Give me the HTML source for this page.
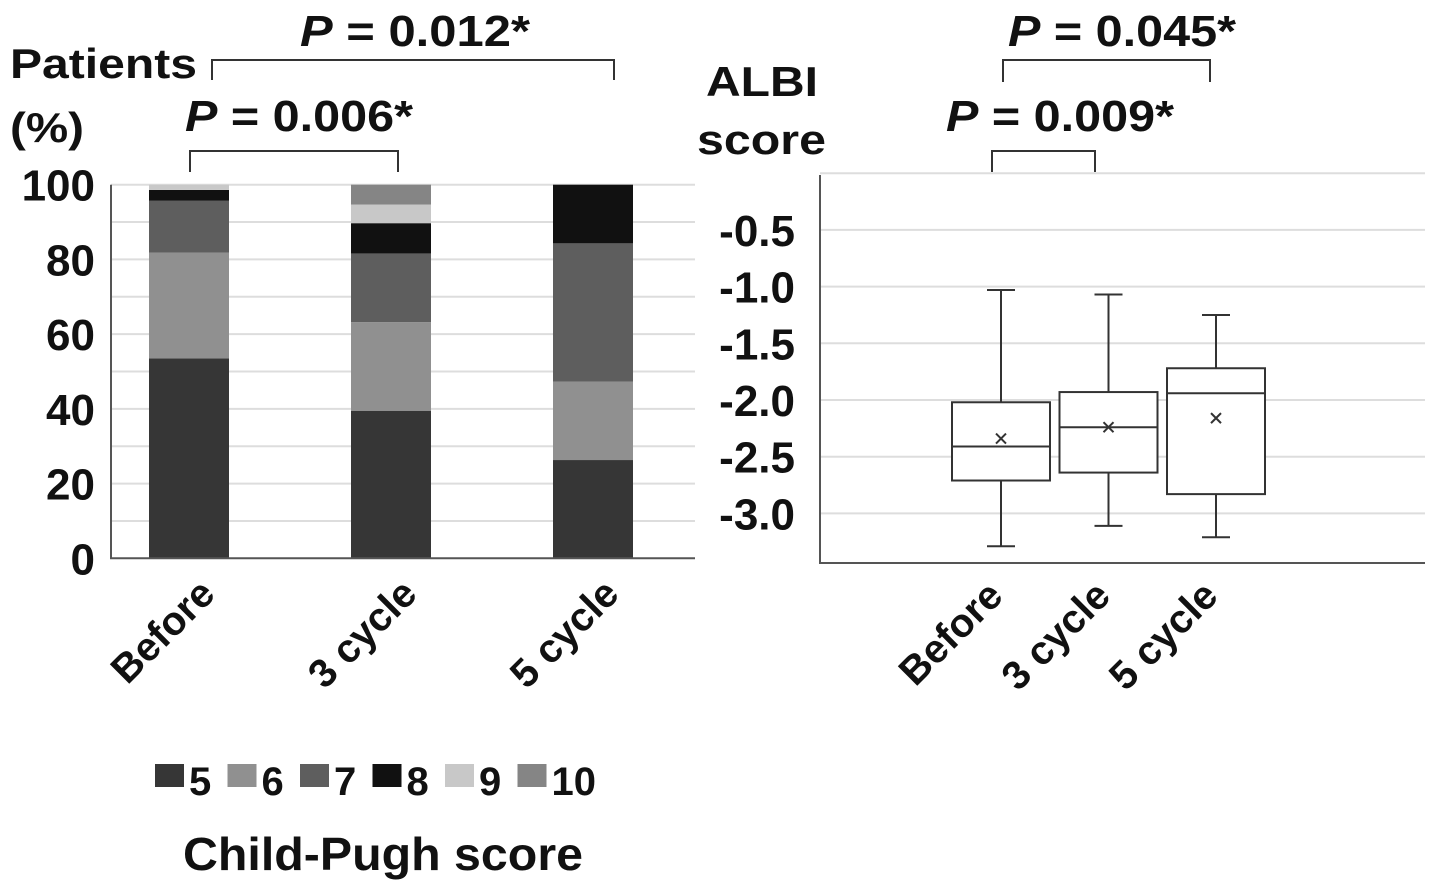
<!DOCTYPE html>
<html><head><meta charset="utf-8">
<style>
html,body{margin:0;padding:0;background:#fff;}
svg{display:block;font-family:"Liberation Sans",Arial,sans-serif;font-weight:bold;}
</style></head>
<body>
<svg id="chart" width="1441" height="891" viewBox="0 0 1441 891">
<g id="left"></g>
<g id="right"></g>
<g fill="#111">
  <text x="10" y="78" font-size="42" textLength="187" lengthAdjust="spacingAndGlyphs">Patients</text>
  <text x="10" y="142" font-size="42" textLength="74" lengthAdjust="spacingAndGlyphs">(%)</text>
  <text x="300" y="46" font-size="44" textLength="230" lengthAdjust="spacingAndGlyphs"><tspan font-style="italic">P</tspan> = 0.012*</text>
  <path d="M212,80 V60 H614 V80" fill="none" stroke="#333" stroke-width="2"/>
  <text x="185" y="131" font-size="44" textLength="228" lengthAdjust="spacingAndGlyphs"><tspan font-style="italic">P</tspan> = 0.006*</text>
  <path d="M190,172 V151 H398 V172" fill="none" stroke="#333" stroke-width="2"/>
  <text x="706" y="96" font-size="42" textLength="112" lengthAdjust="spacingAndGlyphs">ALBI</text>
  <text x="697" y="154" font-size="42" textLength="129" lengthAdjust="spacingAndGlyphs">score</text>
  <text x="1008" y="46" font-size="44" textLength="228" lengthAdjust="spacingAndGlyphs"><tspan font-style="italic">P</tspan> = 0.045*</text>
  <path d="M1003,82 V60 H1210 V82" fill="none" stroke="#333" stroke-width="2"/>
  <text x="946" y="131" font-size="44" textLength="228" lengthAdjust="spacingAndGlyphs"><tspan font-style="italic">P</tspan> = 0.009*</text>
  <path d="M992,172 V151 H1095 V172" fill="none" stroke="#333" stroke-width="2"/>
  <text x="183" y="870" font-size="46" textLength="400" lengthAdjust="spacingAndGlyphs">Child-Pugh score</text>
</g>
<g id="legend"></g>
</svg>
<script>
const NS="http://www.w3.org/2000/svg";
const categories=["Before","3 cycle","5 cycle"];
const scores=["5","6","7","8","9","10"];
const colors=["#363636","#909090","#5e5e5e","#111111","#c8c8c8","#858585"];
const s5=[53.5,39.5,26.3];
const s6=[28.3,23.7,21.0];
const s7=[13.9,18.4,37.0];
const s8=[2.9,8.1,15.7];
const s9=[1.4,5.0,0];
const s10=[0,5.3,0];
const leftTicks=[0,20,40,60,80,100];

const albiTicks=[-0.5,-1.0,-1.5,-2.0,-2.5,-3.0];
const albiMax=[-1.03,-1.07,-1.25];
const albiQ3=[-2.02,-1.93,-1.72];
const albiMedian=[-2.41,-2.24,-1.94];
const albiQ1=[-2.71,-2.64,-2.83];
const albiMin=[-3.29,-3.11,-3.21];
const albiMean=[-2.34,-2.24,-2.16];

function mk(tag,attrs,parent){const e=document.createElementNS(NS,tag);for(const k in attrs)e.setAttribute(k,attrs[k]);parent.appendChild(e);return e;}

// Left chart
const L=document.getElementById('left');
const y0=558.3,pxPer=3.736;
const ly=v=>y0-v*pxPer;
const bandX=i=>189+i*202;
for(let v=10;v<=100;v+=10){
  const g=mk('line',{x1:111,x2:695,y1:ly(v),y2:ly(v),stroke:'#ddd','stroke-width':2},L);
  
  
}
const series=[s5,s6,s7,s8,s9,s10];
categories.forEach((c,i)=>{
  let acc=0;
  series.forEach((s,k)=>{
    const v=s[i];if(v<=0)return;
    const r=mk('rect',{x:bandX(i)-40,width:80,y:ly(acc+v),height:v*pxPer,fill:colors[k]},L);
    
    
    acc+=v;
  });
  const t=mk('text',{transform:`translate(${bandX(i)+28},596) rotate(-45)`,'text-anchor':'end','font-size':40,fill:'#111'},L);
  t.textContent=c;
  
  
});
const la=mk('path',{d:`M111,${ly(100)} V${y0} H695`,fill:'none',stroke:'#555','stroke-width':2},L);


leftTicks.forEach(v=>{
  const t=mk('text',{x:95,y:ly(v)+16,'text-anchor':'end','font-size':44,fill:'#111'},L);
  t.textContent=v;
  
  
});

// Legend
const G=document.getElementById('legend');
scores.forEach((s,k)=>{
  const x=155+k*72.5;
  const r=mk('rect',{x:x,y:764,width:29,height:23,fill:colors[k]},G);
  
  
  const t=mk('text',{x:x+34,y:795,'font-size':40,fill:'#111'},G);
  t.textContent=s;
  
  
});

// Right chart
const R=document.getElementById('right');
const ry=v=>400-(v+2)*113.4;
const rx=i=>1001+i*107.5;
[0,-0.5,-1,-1.5,-2,-2.5,-3].forEach(v=>{
  const g=mk('line',{x1:820,x2:1425,y1:ry(v),y2:ry(v),stroke:'#ddd','stroke-width':2},R);
  
  
});
const ra=mk('path',{d:`M820,175 V563 H1425`,fill:'none',stroke:'#555','stroke-width':2},R);


albiTicks.forEach(v=>{
  const t=mk('text',{x:795,y:ry(v)+16,'text-anchor':'end','font-size':44,fill:'#111'},R);
  t.textContent=v.toFixed(1);
  
  
});
categories.forEach((c,i)=>{
  const cx=rx(i),w=98;
  const g=mk('g',{stroke:'#333','stroke-width':2,fill:'none'},R);
  
  
  mk('line',{x1:cx,x2:cx,y1:ry(albiMax[i]),y2:ry(albiQ3[i])},g);
  mk('line',{x1:cx,x2:cx,y1:ry(albiQ1[i]),y2:ry(albiMin[i])},g);
  mk('line',{x1:cx-14,x2:cx+14,y1:ry(albiMax[i]),y2:ry(albiMax[i])},g);
  mk('line',{x1:cx-14,x2:cx+14,y1:ry(albiMin[i]),y2:ry(albiMin[i])},g);
  mk('rect',{x:cx-w/2,width:w,y:ry(albiQ3[i]),height:ry(albiQ1[i])-ry(albiQ3[i]),fill:'#fff'},g);
  mk('line',{x1:cx-w/2,x2:cx+w/2,y1:ry(albiMedian[i]),y2:ry(albiMedian[i])},g);
  const my=ry(albiMean[i]);
  mk('path',{d:`M${cx-5},${my-5} L${cx+5},${my+5} M${cx+5},${my-5} L${cx-5},${my+5}`},g);
  const t=mk('text',{transform:`translate(${cx+4},598) rotate(-45)`,'text-anchor':'end','font-size':40,fill:'#111'},R);
  t.textContent=c;
  
  
});
</script>
</body></html>
